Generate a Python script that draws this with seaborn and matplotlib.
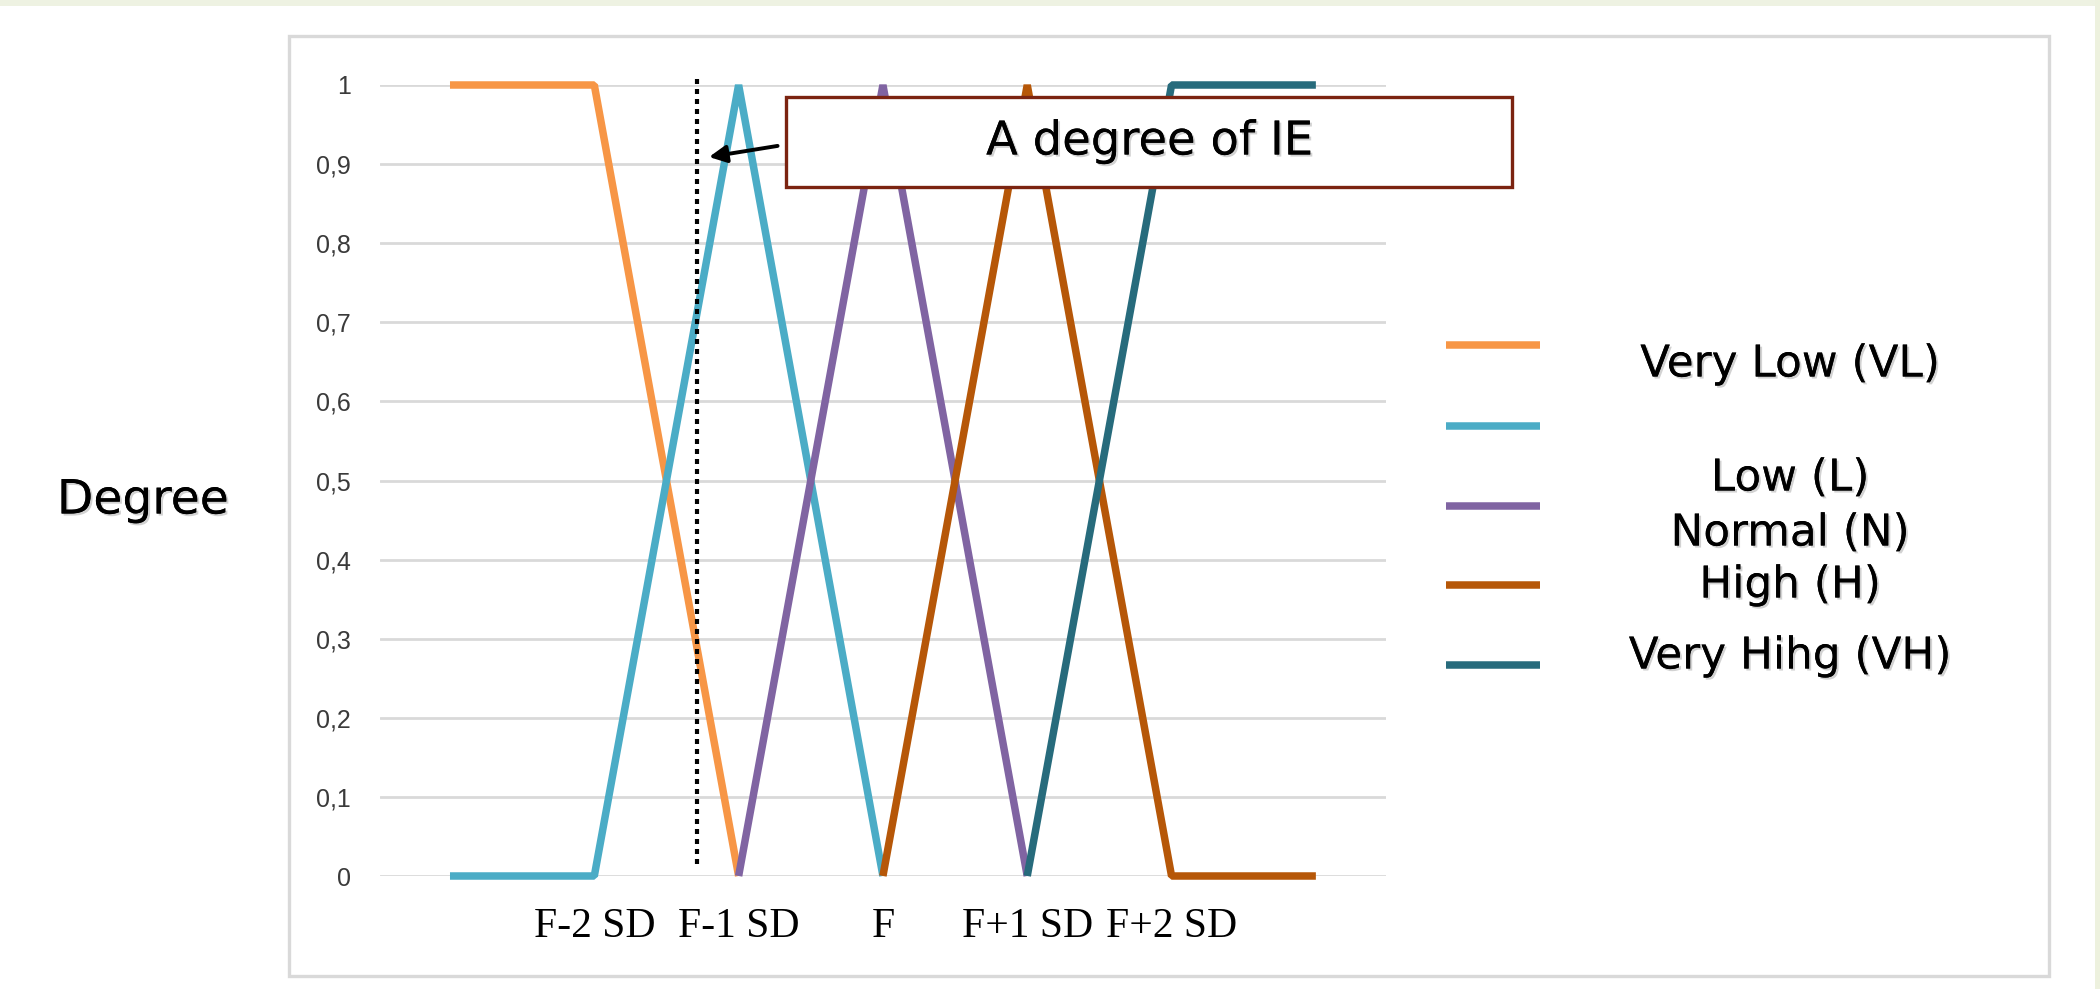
import numpy as np
import pandas as pd
import matplotlib
matplotlib.use("Agg")
import matplotlib.pyplot as plt
import matplotlib.patheffects as pe
from matplotlib.patches import Rectangle
from matplotlib.lines import Line2D
import seaborn as sns

# ---- data -------------------------------------------------------------
categories = ["", "F-2 SD", "F-1 SD", "F", "F+1 SD", "F+2 SD", ""]
very_low = [1, 1, 0, None, None, None, None]
low = [0, 0, 1, 0, None, None, None]
normal = [None, None, 0, 1, 0, None, None]
high = [None, None, None, 0, 1, 0, 0]
very_high = [None, None, None, None, 0, 1, 1]

series_names = ["Very Low (VL)", "Low (L)", "Normal (N)", "High (H)", "Very Hihg (VH)"]
series_values = [very_low, low, normal, high, very_high]
series_colors = ["#F79646", "#4BACC6", "#8064A2", "#B65708", "#276B7C"]

y_ticks = [0, 0.1, 0.2, 0.3, 0.4, 0.5, 0.6, 0.7, 0.8, 0.9, 1]
y_tick_labels = ["0", "0,1", "0,2", "0,3", "0,4", "0,5", "0,6", "0,7", "0,8", "0,9", "1"]

ie_position = 1.71          # current input, between F-2 SD and F-1 SD
ie_degree = 0.909           # membership degree pointed at by the arrow

# long-form table for seaborn
rows = []
for name, vals in zip(series_names, series_values):
    for i, v in enumerate(vals):
        if v is not None:
            rows.append({"pos": i, "degree": v, "level": name})
df = pd.DataFrame(rows)

# ---- figure -----------------------------------------------------------
W, H = 2100, 989
sns.set_theme(style="white")
plt.rcParams["font.family"] = ["DejaVu Sans"]
fig = plt.figure(figsize=(W / 100, H / 100), dpi=100)
fig.patch.set_facecolor("white")


def fx(px):
    return px / W


def fy(py):
    return 1 - py / H


# pale page band along the top and right edges
fig.add_artist(Rectangle((0, fy(6)), 1, 6 / H, transform=fig.transFigure,
                         facecolor="#EEF2E2", edgecolor="none", zorder=0))
fig.add_artist(Rectangle((fx(2095), 0), 5 / W, 1, transform=fig.transFigure,
                         facecolor="#EDF1DE", edgecolor="none", zorder=0))

# chart frame
fig.add_artist(Rectangle((fx(289), fy(976)), (2049 - 289) / W, (976 - 36) / H,
                         transform=fig.transFigure, fill=False,
                         edgecolor="#D9D9D9", linewidth=2.4, zorder=0))

ax = fig.add_axes([fx(380), fy(876), (1386 - 380) / W, (876 - 85) / H])
ax.set_facecolor("none")

sns.lineplot(data=df, x="pos", y="degree", hue="level", hue_order=series_names,
             palette=dict(zip(series_names, series_colors)), sort=False,
             linewidth=5.4, legend=False, ax=ax, zorder=3)
for line in ax.get_lines():
    line.set_clip_on(False)
    line.set_solid_capstyle("butt")
    line.set_solid_joinstyle("bevel")

ax.set_xlim(-0.485, 6.486)
ax.set_ylim(0, 1)
ax.set_yticks(y_ticks)
ax.set_yticklabels(y_tick_labels, fontsize=18, color="#3A3A3A",
                   family="Liberation Sans")
ax.set_xticks(range(len(categories)))
ax.set_xticklabels(categories, fontsize=30, color="black", family="Liberation Serif")
ax.tick_params(axis="both", length=0)
ax.tick_params(axis="y", pad=21)
ax.tick_params(axis="x", pad=23)
ax.grid(axis="y", color="#D9D9D9", linewidth=2.0)
ax.grid(axis="x", visible=False)
ax.set_axisbelow(True)
for s in ax.spines.values():
    s.set_visible(False)
ax.set_xlabel("")
ax.set_ylabel("")

# marker for the evaluated input
ax.plot([ie_position, ie_position], [0.015, 1.011], color="black",
        linewidth=3.0, linestyle=(0, (1.2, 1.2)), clip_on=False, zorder=4)
ax.annotate("", xy=(ie_position + 0.085, ie_degree), xytext=(2.27, 0.923),
            arrowprops=dict(arrowstyle="-|>", color="black", lw=2.8,
                            mutation_scale=26, shrinkA=0, shrinkB=0),
            annotation_clip=False, zorder=5)

shadow = [pe.withSimplePatchShadow(offset=(1.5, -1.5), shadow_rgbFace="#808080",
                                   alpha=0.35), pe.Normal()]

# callout box
fig.add_artist(Rectangle((fx(786), fy(187)), (1512 - 786) / W, (187 - 97) / H,
                         transform=fig.transFigure, facecolor="white",
                         edgecolor="#7B2411", linewidth=2.4, zorder=5))
fig.text(fx(1150), fy(142), "A degree of IE", fontsize=33.5, ha="center",
         va="center", color="black", zorder=6, path_effects=shadow)

# axis title
fig.text(fx(143), fy(501), "Degree", fontsize=34, ha="center", va="center",
         color="black", path_effects=shadow)

# legend keys and labels
key_y = [345, 426, 506, 585, 665]
for yk, c in zip(key_y, series_colors):
    fig.add_artist(Line2D([fx(1446), fx(1540)], [fy(yk), fy(yk)],
                          transform=fig.transFigure, color=c, linewidth=5.4,
                          solid_capstyle="butt"))
label_y = [364, 478, 533, 585, 656]
for yl, name in zip(label_y, series_names):
    fig.text(fx(1790), fy(yl), name, fontsize=31.5, ha="center", va="center",
             color="black", path_effects=shadow)

fig.savefig("out.png", dpi=100, facecolor="white")
